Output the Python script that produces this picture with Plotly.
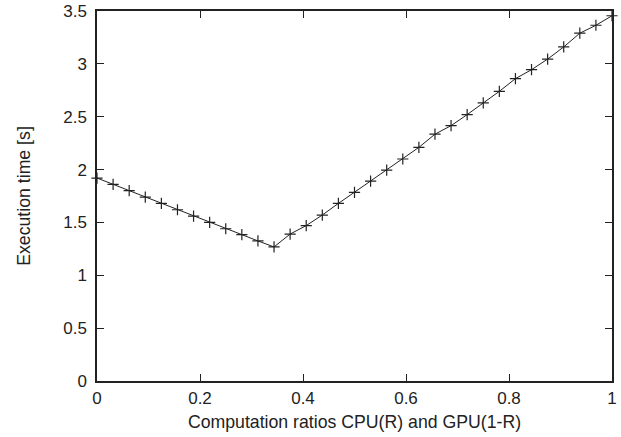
import plotly.graph_objects as go

ratios = [i / 32 for i in range(33)]
exec_time = [1.92, 1.86, 1.80, 1.74, 1.68, 1.62, 1.56, 1.50, 1.44, 1.385, 1.325, 1.268,
             1.39, 1.47, 1.57, 1.68, 1.785, 1.89, 1.995, 2.10, 2.21, 2.335, 2.415, 2.52,
             2.63, 2.74, 2.86, 2.945, 3.045, 3.16, 3.29, 3.365, 3.455]
x_ticks = [0, 0.2, 0.4, 0.6, 0.8, 1]
x_tick_labels = ["0", "0.2", "0.4", "0.6", "0.8", "1"]
y_ticks = [0, 0.5, 1, 1.5, 2, 2.5, 3, 3.5]
y_tick_labels = ["0", "0.5", "1", "1.5", "2", "2.5", "3", "3.5"]

fig = go.Figure()
fig.add_trace(go.Scatter(
    x=ratios, y=exec_time, mode="lines+markers",
    line=dict(color="#222", width=1),
    marker=dict(symbol="cross-thin", size=8, line=dict(color="#222", width=1.2), color="#222"),
    showlegend=False, cliponaxis=False,
))

font = dict(family="Liberation Sans, Arial, sans-serif", size=17, color="#222")
title_font = dict(family="Liberation Sans, Arial, sans-serif", size=17.7, color="#222")
axis_common = dict(
    showline=True, linecolor="#222", linewidth=1.5, mirror="ticks",
    ticks="inside", ticklen=7, tickwidth=1, tickcolor="#222",
    showgrid=False, zeroline=False, tickfont=font, automargin=False,
)
fig.update_xaxes(range=[0, 1], tickvals=x_ticks, ticktext=x_tick_labels,
                 title=dict(text="Computation ratios CPU(R) and GPU(1-R)", font=title_font, standoff=8),
                 ticklabelstandoff=1,
                 **axis_common)
fig.update_yaxes(range=[0, 3.5], tickvals=y_ticks, ticktext=y_tick_labels,
                 title=dict(text="Execution time [s]", font=title_font, standoff=28),
                 ticklabelstandoff=5,
                 **axis_common)
fig.update_layout(
    width=621, height=437,
    margin=dict(l=97, r=9, t=11, b=56),
    paper_bgcolor="white", plot_bgcolor="white",
    font=font,
)
fig.write_html("out.html", config={"displayModeBar": False},
               post_script="document.body.style.margin='0';document.body.style.overflow='hidden';")
